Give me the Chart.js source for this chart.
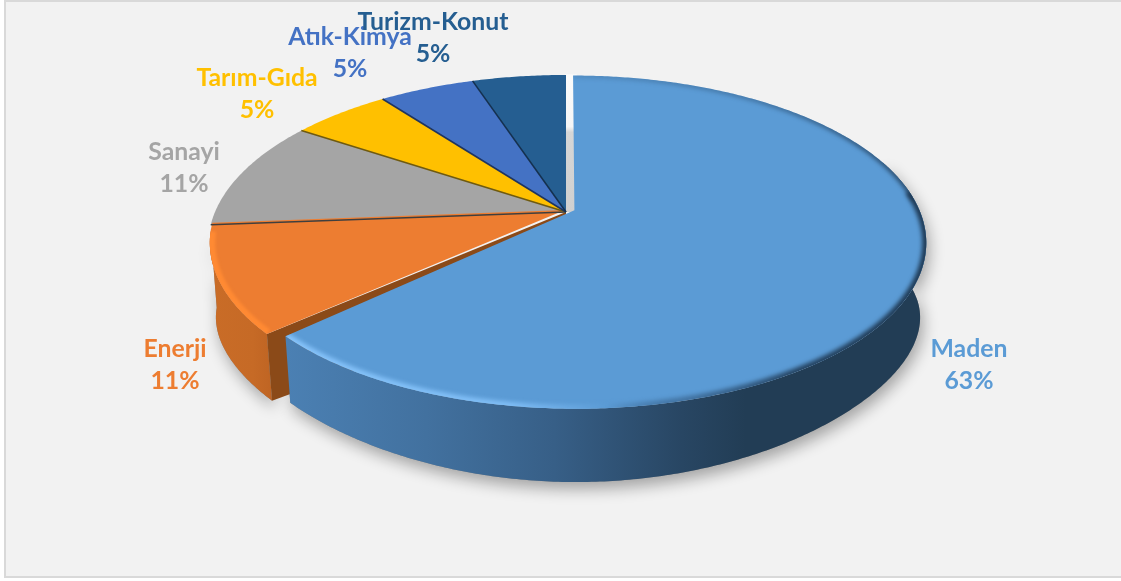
<!DOCTYPE html>
<html><head><meta charset="utf-8">
<style>html,body{margin:0;padding:0;background:#fff;overflow:hidden}canvas{display:block}</style>
<script src="https://cdn.jsdelivr.net/npm/chart.js@4"></script>
</head><body>
<canvas id="c" width="1121" height="581"></canvas>
<script>
const categories = ['Maden','Enerji','Sanayi','Tarım-Gıda','Atık-Kimya','Turizm-Konut'];
const shares = [63,10.7,10.5,5.4,5.2,5.1];
const sliceColors = ['#5B9BD5','#ED7D31','#A5A5A5','#FFC000','#4472C4','#255E91'];
const seamColors = ['#2a4a6a','#8B4A18','#3f3f3f','#6f5a10','#1f3560','#14304f'];
const labelX = [969,175,184,257,350,433];
const labelY = [349,349,152,78,37,22];

const TOP = {x0:566,y0:212,a:351,b:163.6,k:.194,ky:.194};
const BOT = {x0:566,y0:292.6,a:345,b:128,k:.194,ky:.35};
const EXPLODE = {ou:.024,ov:-.01,r:.985};
const NONE = {ou:0,ov:0,r:1};
const ORANGE = {ou:-.003,ov:-.012,r:.995};
function proj(p,u,v){return [p.x0+p.a*u/(1-p.k*v),p.y0+p.b*v/(1-p.ky*v)];}
function pt(p,ang,e){return proj(p,e.ou+e.r*Math.cos(ang),e.ov+e.r*Math.sin(ang));}
function ringPts(p,a0,a1,e){const n=Math.max(2,Math.ceil(Math.abs(a1-a0)/0.01));const o=[];
  for(let i=0;i<=n;i++)o.push(pt(p,a0+(a1-a0)*i/n,e));return o;}
function path(ctx,pts){ctx.beginPath();pts.forEach((q,i)=>i?ctx.lineTo(q[0],q[1]):ctx.moveTo(q[0],q[1]));ctx.closePath();}
function line(ctx,pts){ctx.beginPath();pts.forEach((q,i)=>i?ctx.lineTo(q[0],q[1]):ctx.moveTo(q[0],q[1]));}
function hGrad(ctx,x0,x1,stops){const g=ctx.createLinearGradient(x0,0,x1,0);stops.forEach(s=>g.addColorStop(s[0],s[1]));return g;}

const pie3d = {
  id:'pie3d',
  beforeDraw(chart){
    const c=chart.ctx;
    c.save();
    c.fillStyle='#fff';c.fillRect(0,0,1121,581);
    c.fillStyle='#F2F2F2';c.fillRect(4,0,1117,578);
    c.fillStyle='#D9D9D9';c.fillRect(4,0,1117,2);c.fillRect(4,0,2,578);c.fillRect(4,576,1117,2);
    c.restore();
  },
  beforeDatasetsDraw(chart){
    const c=chart.ctx, arcs=chart.getDatasetMeta(0).data;
    const A=arcs.map(el=>[el.startAngle,el.endAngle]);
    const wallPts=(from,to,e)=>ringPts(TOP,from,to,e).concat(ringPts(BOT,to,from,e));
    const facePts=(i,e,from)=>[proj(TOP,e.ou,e.ov)].concat(ringPts(TOP,from===undefined?A[i][0]:from,A[i][1],e));

    const mFrom=A[0][0]+1.25, mTo=A[0][1];
    const oStart=A[1][0]+.02, oFrom=oStart, oTo=A[1][1]-.05;
    const mWall=wallPts(mFrom,mTo,EXPLODE), oWall=wallPts(oFrom,oTo,ORANGE);

    // soft floor shadow
    c.save();
    c.shadowColor='rgba(0,0,0,.33)';c.shadowBlur=15;c.shadowOffsetX=3;c.shadowOffsetY=7;c.fillStyle='#888';
    path(c,mWall);c.fill();path(c,oWall);c.fill();
    c.restore();

    // gap behind the exploded slice
    const gapT=proj(TOP,0,-1.005),gapA=proj(TOP,0,0);
    const gg=c.createLinearGradient(0,gapT[1],0,gapA[1]);
    gg.addColorStop(0,'#fbfbfb');gg.addColorStop(.38,'#f6f6f6');gg.addColorStop(.42,'#d6d6d6');gg.addColorStop(1,'#d0d0d0');
    c.fillStyle=gg;c.fillRect(gapT[0]-1,gapT[1],12,gapA[1]-gapT[1]);

    // Enerji wall
    c.fillStyle=hGrad(c,212,280,[[0,'#C96C27'],[.6,'#C66A26'],[1,'#BC6222']]);
    path(c,oWall);c.fill();
    // Enerji radial face
    const cornerT=pt(TOP,oStart,ORANGE),cornerB=pt(BOT,oStart,ORANGE);
    c.fillStyle='#8B4A18';
    path(c,[proj(TOP,0,0),cornerT,cornerB,proj(BOT,0,0)]);c.fill();

    // back slices' top faces (Turizm → Sanayi → Enerji)
    for(let i=5;i>=2;i--){c.fillStyle=sliceColors[i];path(c,facePts(i,NONE));c.fill();}
    const oFace=facePts(1,ORANGE,oStart);
    c.fillStyle=sliceColors[1];path(c,oFace);c.fill();
    // Enerji rim bevel
    c.save();path(c,oFace);c.clip();
    c.filter='blur(1.5px)';c.strokeStyle='#FF8A33';c.lineWidth=11;
    line(c,ringPts(TOP,oStart,oTo,ORANGE));c.stroke();c.restore();
    // seams between slices
    c.lineWidth=1.6;
    for(let i=2;i<=5;i++){c.strokeStyle=seamColors[i];line(c,[proj(TOP,0,0),pt(TOP,A[i][0],NONE)]);c.stroke();}

    // Maden wall
    c.fillStyle=hGrad(c,286,925,[[0,'#4B80B3'],[.22,'#42719F'],[.42,'#375F87'],[.62,'#284663'],[.72,'#223D55'],[1,'#223D55']]);
    path(c,mWall);c.fill();
    // Maden top face
    const mFace=facePts(0,EXPLODE);
    c.fillStyle=sliceColors[0];path(c,mFace);c.fill();
    c.save();path(c,mFace);c.clip();
    c.filter='blur(2px)';c.lineWidth=8;
    c.strokeStyle=hGrad(c,286,925,[[0,'#86C3FA'],[.35,'#7FBDF5'],[.5,'#5B9BD5'],[.62,'rgba(50,90,130,.6)'],[.8,'rgba(31,58,85,.9)'],[1,'#1F3A55']]);
    line(c,ringPts(TOP,A[0][0]+1.45,A[0][1],EXPLODE));c.stroke();
    c.lineWidth=5;
    c.strokeStyle=hGrad(c,570,925,[[0,'rgba(40,75,110,.2)'],[.5,'rgba(40,75,110,.45)'],[1,'rgba(31,58,85,.9)']]);
    line(c,ringPts(TOP,A[0][0],A[0][0]+1.5,EXPLODE));c.stroke();
    c.restore();

    return false;
  },
  afterDraw(chart){
    const c=chart.ctx;
    c.save();
    c.font='700 24.8px Lato, Carlito, sans-serif';
    c.textAlign='center';c.textBaseline='middle';
    categories.forEach((name,i)=>{
      c.fillStyle=sliceColors[i];
      c.fillText(name,labelX[i],labelY[i]);
      c.fillText(Math.round(shares[i])+'%',labelX[i],labelY[i]+32);
    });
    c.restore();
  }
};

new Chart(document.getElementById('c'),{
  type:'pie',
  data:{labels:categories,datasets:[{data:shares,backgroundColor:sliceColors,borderWidth:0}]},
  options:{responsive:false,animation:false,devicePixelRatio:1,
    plugins:{legend:{display:false},tooltip:{enabled:false}}},
  plugins:[pie3d]
});
</script>
</body></html>
